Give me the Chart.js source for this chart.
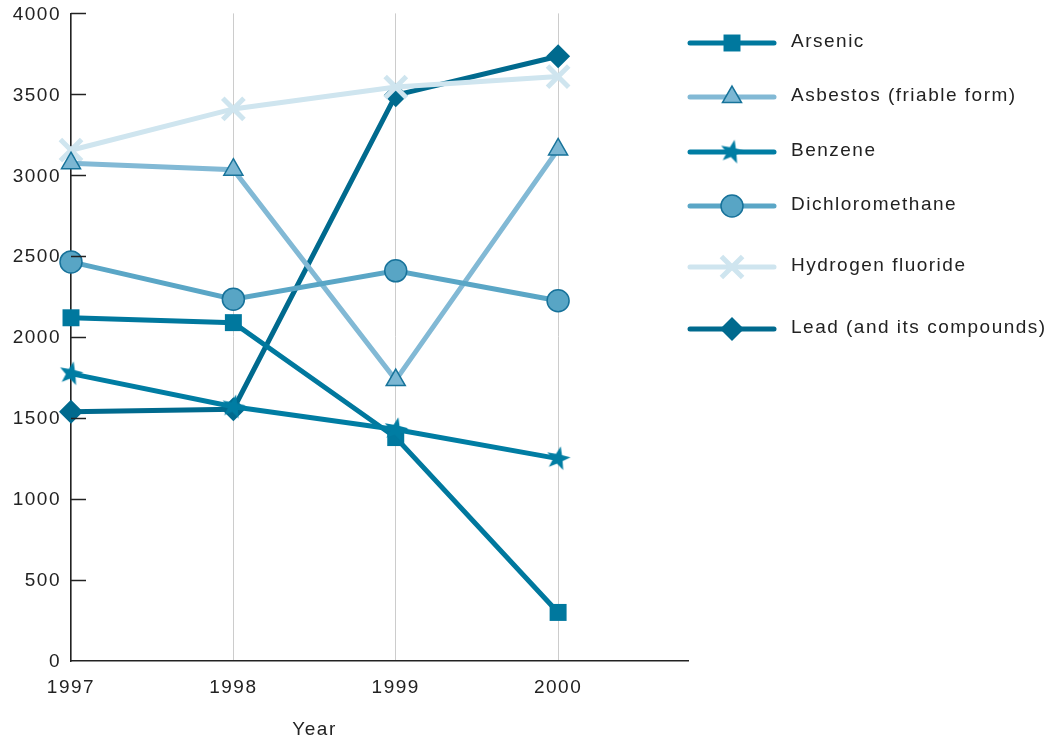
<!DOCTYPE html>
<html>
<head>
<meta charset="utf-8">
<script src="https://cdn.jsdelivr.net/npm/chart.js@4.4.1/dist/chart.umd.min.js"></script>
<style>
  html, body { margin: 0; padding: 0; background: #ffffff; overflow: hidden; }
  #wrap { position: relative; width: 1055px; height: 740px; overflow: hidden; }
  #chart { position: absolute; left: 0; top: -8px; }
</style>
</head>
<body>
<div id="wrap"><canvas id="chart" width="1055" height="748"></canvas></div>
<script>
// Emissions reported per substance, 1997–2000
const years = [1997, 1998, 1999, 2000];
const yTicks = [0, 500, 1000, 1500, 2000, 2500, 3000, 3500, 4000];
const seriesNames = [
  'Arsenic',
  'Asbestos (friable form)',
  'Benzene',
  'Dichloromethane',
  'Hydrogen fluoride',
  'Lead (and its compounds)'
];
const arsenic = [2120, 2090, 1380, 300];
const asbestos = [3075, 3035, 1735, 3160];
const benzene = [1775, 1570, 1430, 1250];
const dichloromethane = [2465, 2235, 2410, 2225];
const hydrogenFluoride = [3155, 3410, 3545, 3610];
const lead = [1540, 1555, 3495, 3735];

const FONT = '"Liberation Sans", Arial, Helvetica, sans-serif';
const FONT_SIZE = 19;
const SPACING = '1.5px';
const TEXT = '#222222';
const SHIFT = 8; // canvas sits this far above the page top

// filled five-pointed star used as a point marker
function makeStar(color, outer, inner, tiltDeg) {
  const size = Math.ceil(outer * 2 + 4);
  const c = document.createElement('canvas');
  c.width = size; c.height = size;
  const g = c.getContext('2d');
  const cx = size / 2, cy = size / 2;
  const tilt = tiltDeg * Math.PI / 180;
  g.beginPath();
  for (let i = 0; i < 10; i++) {
    const r = i % 2 === 0 ? outer : inner;
    const a = -Math.PI / 2 + tilt + i * Math.PI / 5;
    const px = cx + r * Math.cos(a), py = cy + r * Math.sin(a);
    if (i === 0) g.moveTo(px, py); else g.lineTo(px, py);
  }
  g.closePath();
  g.fillStyle = color;
  g.fill();
  return c;
}
const starImg = makeStar('#007da3', 12.5, 5.2, 12);

const styles = [
  { line: '#00789e', fill: '#00789e', border: '#00789e', pointStyle: 'rect', radius: 12, bw: 0, order: 4 },
  { line: '#82b9d5', fill: '#7cb7d3', border: '#17739a', pointStyle: 'triangle', radius: 11, bw: 1.5, order: 2 },
  { line: '#007da3', fill: '#007da3', border: '#007da3', pointStyle: starImg, radius: 12, bw: 0, order: 3 },
  { line: '#5aa6c6', fill: '#58a5c5', border: '#17729a', pointStyle: 'circle', radius: 11, bw: 1.5, order: 1 },
  { line: '#cfe5ef', fill: '#cfe5ef', border: '#cfe5ef', pointStyle: 'crossRot', radius: 15, bw: 5, order: 5 },
  { line: '#006a8e', fill: '#006a8e', border: '#006a8e', pointStyle: 'rectRot', radius: 12, bw: 0, order: 6 }
];
const seriesValues = [arsenic, asbestos, benzene, dichloromethane, hydrogenFluoride, lead];

const datasets = seriesValues.map((vals, i) => {
  const s = styles[i];
  return {
    label: seriesNames[i],
    data: vals.map((v, j) => ({ x: years[j], y: v })),
    borderColor: s.line,
    borderWidth: 5,
    backgroundColor: s.fill,
    pointBackgroundColor: s.fill,
    pointBorderColor: s.border,
    pointBorderWidth: s.bw,
    pointStyle: s.pointStyle,
    pointRadius: s.radius,
    pointHoverRadius: s.radius,
    tension: 0,
    order: s.order,
    clip: false
  };
});

// slightly tracked-out lettering for all chart text
const lettering = {
  id: 'lettering',
  beforeDraw(chart) { chart.ctx.letterSpacing = SPACING; }
};

// inward tick marks, axis title and the legend block on the right
const decorations = {
  id: 'decorations',
  afterDatasetsDraw(chart) {
    const ctx = chart.ctx;
    const xs = chart.scales.x, ys = chart.scales.y;
    const left = chart.chartArea.left;
    ctx.save();
    ctx.letterSpacing = SPACING;
    ctx.strokeStyle = '#222222';
    ctx.lineWidth = 1.5;
    yTicks.forEach(v => {
      if (v === 0) return;
      const py = Math.round(ys.getPixelForValue(v)) + 0.5;
      ctx.beginPath();
      ctx.moveTo(left, py);
      ctx.lineTo(left + 15, py);
      ctx.stroke();
    });
    // axis title centred under the year range
    const cx = (xs.getPixelForValue(years[0]) + xs.getPixelForValue(years[years.length - 1])) / 2;
    ctx.fillStyle = TEXT;
    ctx.font = FONT_SIZE + 'px ' + FONT;
    ctx.textAlign = 'center';
    ctx.textBaseline = 'middle';
    ctx.fillText('Year', cx, 730 + SHIFT);

    // legend
    const rowY = [43, 97, 152, 206, 267, 329];
    const lx0 = 690, lx1 = 774, mx = 732, tx = 791;
    seriesNames.forEach((name, i) => {
      const s = styles[i];
      const y = rowY[i] + SHIFT;
      ctx.beginPath();
      ctx.strokeStyle = s.line;
      ctx.lineWidth = 5;
      ctx.lineCap = 'round';
      ctx.moveTo(lx0, y);
      ctx.lineTo(lx1, y);
      ctx.stroke();
      ctx.lineCap = 'butt';
      ctx.fillStyle = s.fill;
      ctx.strokeStyle = s.border;
      ctx.lineWidth = s.bw;
      Chart.helpers.drawPoint(ctx, {
        pointStyle: s.pointStyle,
        radius: s.radius,
        rotation: 0,
        borderWidth: s.bw
      }, mx, y);
      ctx.fillStyle = TEXT;
      ctx.font = FONT_SIZE + 'px ' + FONT;
      ctx.textAlign = 'left';
      ctx.textBaseline = 'middle';
      ctx.fillText(name, tx, y - 1);
    });
    ctx.restore();
  }
};

new Chart(document.getElementById('chart'), {
  type: 'line',
  data: { datasets },
  plugins: [lettering, decorations],
  options: {
    responsive: false,
    animation: false,
    events: [],
    layout: { padding: { top: 12, right: 367, left: 0, bottom: 0 } },
    plugins: {
      legend: { display: false },
      tooltip: { enabled: false }
    },
    scales: {
      x: {
        type: 'linear',
        min: 1997,
        max: 2000.8,
        afterBuildTicks(scale) { scale.ticks = years.map(v => ({ value: v })); },
        afterFit(scale) { scale.height = 79; },
        ticks: {
          color: TEXT,
          font: { family: FONT, size: FONT_SIZE },
          padding: 15,
          callback: v => String(v),
          maxRotation: 0
        },
        grid: { color: '#cccccc', lineWidth: 1, drawTicks: false },
        border: { display: true, color: '#222222', width: 1.5 }
      },
      y: {
        type: 'linear',
        min: 0,
        max: 4000,
        afterBuildTicks(scale) { scale.ticks = yTicks.map(v => ({ value: v })); },
        afterFit(scale) { scale.width = 71; },
        ticks: {
          color: TEXT,
          font: { family: FONT, size: FONT_SIZE },
          padding: 10,
          labelOffset: 1,
          callback: v => String(v)
        },
        grid: { display: true, drawOnChartArea: false, drawTicks: false },
        border: { display: true, color: '#222222', width: 1.5 }
      }
    }
  }
});
</script>
</body>
</html>
